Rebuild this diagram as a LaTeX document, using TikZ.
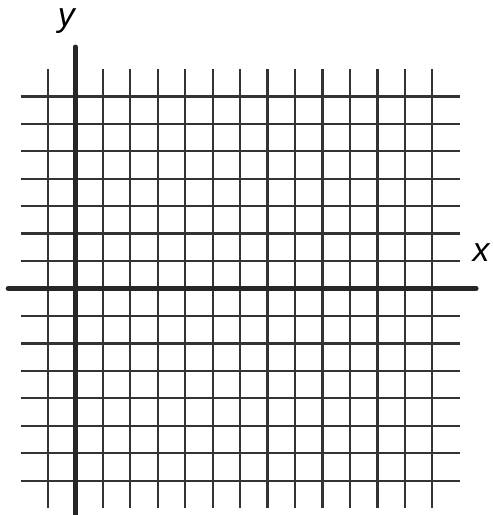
\documentclass[tikz,border=0pt]{standalone}
\usepackage{fontspec}
\setmainfont{Liberation Sans}
\begin{document}
\begin{tikzpicture}[x=1cm,y=1cm]
        \useasboundingbox (-2.747,-8.251) rectangle (15.18,10.51);
        \foreach \i in {-7,...,7} \draw [line width=2.4pt,black!80] (-2,\i) -- (14,\i);
        \foreach \i in {-1,1,2,...,13} \draw [line width=2.4pt,black!80] (\i,-8) -- (\i,8);
        \draw [line width=5pt,line cap=round,black!85] (-2.45,0) -- (14.6,0);
        \draw [line width=5pt,line cap=round,black!85] (0,8.8) -- (0,-8.4);
        \node (ylab) at (-0.3,9.75) {\fontsize{35}{35}\selectfont\textit{y}};
        \node (xlab) at (14.8,1.3) {\fontsize{35}{35}\selectfont\textit{x}};
    \end{tikzpicture}
\end{document}
